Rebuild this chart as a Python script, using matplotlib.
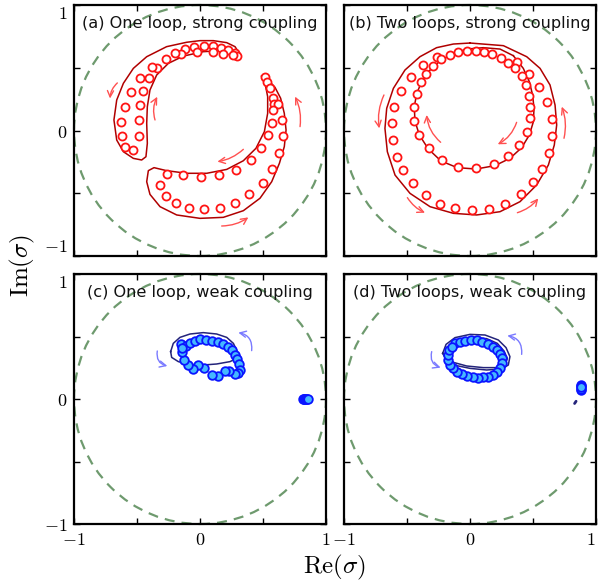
import matplotlib
matplotlib.use('Agg')
import matplotlib.pyplot as plt
from matplotlib.patches import Circle

plt.rcParams['mathtext.fontset'] = 'cm'

# ---------------- data ----------------
titles = ['(a) One loop, strong coupling', '(b) Two loops, strong coupling',
          '(c) One loop, weak coupling', '(d) Two loops, weak coupling']
tick_vals = [-1, -0.5, 0, 0.5, 1]
tick_labels = ['$-1$', '', '$0$', '', '$1$']

# (a) markers
a_mx = [-0.045, 0.032, 0.101, 0.164, 0.225, 0.278, 0.291, 0.265, 0.185, 0.106, -0.026, -0.119, -0.151,
        -0.198, -0.270, -0.344, -0.384, -0.402, -0.476, -0.450, -0.550, -0.476, -0.595, -0.481, -0.627,
        -0.481, -0.619, -0.529, -0.593,
        0.516, 0.534, 0.556, 0.577, 0.590, 0.616, 0.582, 0.648, 0.569, 0.656, 0.542, 0.627, 0.484, 0.571,
        0.402, 0.500, 0.286, 0.389, 0.151, 0.278, 0.011, 0.159, -0.135, 0.034, -0.262, -0.085, -0.317,
        -0.190, -0.270]
a_my = [0.668, 0.676, 0.673, 0.660, 0.641, 0.615, 0.594, 0.602, 0.610, 0.623, 0.628, 0.649, 0.607,
        0.615, 0.570, 0.501, 0.503, 0.416, 0.416, 0.315, 0.309, 0.203, 0.190, 0.084, 0.070,
        -0.044, -0.041, -0.155, -0.134,
        0.424, 0.389, 0.336, 0.256, 0.214, 0.208, 0.163, 0.084, 0.062, -0.044, -0.036, -0.182, -0.142, -0.309,
        -0.235, -0.416, -0.312, -0.509, -0.357, -0.578, -0.368, -0.615, -0.355, -0.623, -0.349, -0.615, -0.434,
        -0.575, -0.519]
# (a) curves
a_l1x = [0.312, 0.278, 0.212, 0.106, 0.0, -0.106, -0.265, -0.423, -0.529, -0.608, -0.661, -0.683, -0.661,
         -0.608, -0.529, -0.463, -0.429, -0.418, -0.423, -0.418, -0.397, -0.344, -0.251, -0.132, 0.026,
         0.159, 0.265, 0.312]
a_l1y = [0.615, 0.668, 0.700, 0.716, 0.716, 0.703, 0.668, 0.588, 0.495, 0.376, 0.243, 0.084, -0.076,
         -0.169, -0.222, -0.235, -0.209, -0.102, 0.057, 0.190, 0.323, 0.442, 0.535, 0.593, 0.628,
         0.636, 0.628, 0.615]
a_l2x = [0.489, 0.542, 0.595, 0.640, 0.669, 0.683, 0.669, 0.630, 0.569, 0.476, 0.344, 0.185, 0.0, -0.185,
         -0.317, -0.397, -0.423, -0.410, -0.365, -0.265, -0.106, 0.053, 0.212, 0.344, 0.444, 0.511, 0.537,
         0.537, 0.516, 0.489]
a_l2y = [0.434, 0.402, 0.344, 0.257, 0.137, 0.004, -0.129, -0.262, -0.408, -0.540, -0.639, -0.692, -0.700,
         -0.673, -0.607, -0.509, -0.408, -0.320, -0.296, -0.320, -0.341, -0.341, -0.310, -0.241, -0.142,
         -0.009, 0.137, 0.270, 0.376, 0.434]

# (b) markers
b_mx = [-0.259, -0.370, -0.471, -0.548, -0.601, -0.622, -0.614, -0.582, -0.529, -0.450, -0.349, -0.235,
        -0.116, 0.019, 0.153, 0.280, 0.402, 0.497, 0.574, 0.627, 0.653, 0.648, 0.614, 0.550, 0.471, 0.370,
        -0.230, -0.159, -0.093, -0.021, 0.045, 0.111, 0.175, 0.246, 0.304, 0.357, 0.410, 0.444, 0.471,
        0.479, 0.479, 0.450, 0.392, 0.304, 0.190, 0.048, -0.095, -0.225, -0.325, -0.402, -0.442, -0.447,
        -0.423, -0.389, -0.349, -0.291]
b_my = [0.583, 0.522, 0.426, 0.315, 0.190, 0.062, -0.076, -0.208, -0.317, -0.421, -0.514, -0.583,
        -0.620, -0.634, -0.623, -0.583, -0.509, -0.413, -0.307, -0.179, -0.041, 0.092, 0.224, 0.347, 0.450,
        0.543,
        0.567, 0.602, 0.623, 0.633, 0.633, 0.628, 0.609, 0.580, 0.535, 0.495, 0.437, 0.363, 0.278,
        0.190, 0.097, -0.015, -0.116, -0.203, -0.267, -0.301, -0.291, -0.235, -0.142, -0.036, 0.078, 0.190,
        0.294, 0.384, 0.448, 0.514]
# (b) curves
b_l1x = [0.000, 0.265, 0.450, 0.556, 0.635, 0.675, 0.688, 0.669, 0.622, 0.529, 0.397, 0.238, 0.053,
         -0.132, -0.317, -0.476, -0.595, -0.656, -0.675, -0.661, -0.608, -0.516, -0.397, -0.265, -0.132, 0.000]
b_l1y = [0.697, 0.676, 0.588, 0.495, 0.363, 0.203, 0.044, -0.116, -0.275, -0.434, -0.567, -0.647, -0.673,
         -0.660, -0.607, -0.501, -0.355, -0.169, 0.017, 0.177, 0.336, 0.482, 0.588, 0.660, 0.689, 0.697]
b_l2x = [0.344, 0.423, 0.471, 0.497, 0.508, 0.503, 0.471, 0.410, 0.317, 0.198, 0.048, -0.101, -0.230,
         -0.331, -0.402, -0.437, -0.442, -0.423, -0.384, -0.317, -0.238, -0.146, -0.026, 0.106, 0.238, 0.344]
b_l2y = [0.596, 0.495, 0.389, 0.283, 0.177, 0.070, -0.036, -0.137, -0.222, -0.280, -0.307, -0.296, -0.243,
         -0.147, -0.036, 0.076, 0.190, 0.294, 0.389, 0.482, 0.554, 0.607, 0.649, 0.660, 0.649, 0.596]

# (c) markers
c_mx = [-0.151, -0.114, -0.079, -0.040, 0.000, 0.045, 0.093, 0.146, 0.185, 0.225, 0.257, 0.278, 0.296,
        0.312, 0.317, 0.304, 0.278, 0.233, 0.198, 0.146, 0.093, 0.032, -0.019, -0.053, -0.093, -0.127,
        -0.146, -0.146]
c_my = [0.437, 0.424, 0.445, 0.464, 0.477, 0.472, 0.464, 0.453, 0.440, 0.419, 0.392, 0.352, 0.317,
        0.277, 0.232, 0.205, 0.197, 0.224, 0.224, 0.184, 0.192, 0.251, 0.272, 0.237, 0.272, 0.312,
        0.379, 0.405]
c_dotx = [0.815, 0.822, 0.829, 0.836, 0.843, 0.850, 0.857]
c_doty = [0.0, 0.0, 0.0, 0.0, 0.0, 0.0, 0.0]
c_lx = [-0.233, -0.212, -0.159, -0.079, 0.026, 0.132, 0.212, 0.265, 0.296, 0.291, 0.238, 0.132, 0.026,
        -0.079, -0.172, -0.225, -0.233]
c_ly = [0.379, 0.445, 0.493, 0.520, 0.531, 0.520, 0.493, 0.445, 0.379, 0.325, 0.299, 0.280, 0.272,
        0.277, 0.299, 0.333, 0.379]

# (d) markers
d_mx = [-0.119, -0.079, -0.040, 0.005, 0.053, 0.098, 0.140, 0.180, 0.212, 0.238, 0.251, 0.251, 0.238,
        0.212, 0.180, 0.146, 0.106, 0.066, 0.021, -0.021, -0.063, -0.101, -0.132, -0.159, -0.172, -0.177,
        -0.164, -0.146]
d_my = [0.445, 0.459, 0.467, 0.472, 0.472, 0.459, 0.440, 0.419, 0.392, 0.360, 0.325, 0.285, 0.245,
        0.213, 0.192, 0.179, 0.173, 0.171, 0.173, 0.184, 0.200, 0.219, 0.245, 0.272, 0.312, 0.352,
        0.392, 0.419]
d_dotx = [0.884, 0.884, 0.884, 0.884, 0.884]
d_doty = [0.072, 0.082, 0.114, 0.104, 0.093]
d_l1x = [-0.217, -0.190, -0.119, 0.0, 0.119, 0.225, 0.286, 0.317, 0.304, 0.251, 0.132, 0.0, -0.106,
         -0.180, -0.217]
d_l1y = [0.365, 0.437, 0.491, 0.517, 0.512, 0.472, 0.411, 0.339, 0.272, 0.240, 0.232, 0.245, 0.267,
         0.299, 0.365]
d_l2x = [-0.190, -0.153, -0.079, 0.026, 0.132, 0.217, 0.270, 0.296, 0.278, 0.225, 0.106, -0.026, -0.132,
         -0.190]
d_l2y = [0.357, 0.427, 0.469, 0.491, 0.483, 0.445, 0.384, 0.325, 0.272, 0.251, 0.251, 0.264, 0.293,
         0.357]
d_segx = [0.830, 0.842]
d_segy = [-0.036, -0.018]

# arrows: (x_start, y_start, x_end, y_end, curvature)
a_arrows = [(-0.656, 0.379, -0.714, 0.255, 0.2), (-0.357, 0.084, -0.339, 0.269, -0.2),
            (0.344, -0.150, 0.138, -0.248, -0.15), (0.172, -0.761, 0.384, -0.692, 0.15),
            (0.794, 0.031, 0.754, 0.270, 0.15)]
b_arrows = [(-0.683, 0.283, -0.720, 0.017, 0.15), (-0.497, -0.535, -0.357, -0.655, 0.15),
            (0.376, -0.655, 0.542, -0.541, 0.15), (0.746, -0.062, 0.728, 0.190, 0.15),
            (-0.233, -0.094, -0.344, 0.124, -0.2), (0.370, 0.065, 0.220, -0.110, -0.2)]
c_arrows = [(-0.339, 0.384, -0.259, 0.264, 0.45), (0.410, 0.387, 0.304, 0.531, 0.45)]
d_arrows = [(-0.304, 0.379, -0.233, 0.251, 0.45), (0.410, 0.357, 0.296, 0.507, 0.45)]

# ---------------- styles ----------------
RED_M = '#ff1414'
RED_L = '#b00000'
RED_A = '#ff5050'
BLUE_E = '#0a14ff'
BLUE_F = '#45b8ff'
NAVY = '#24247a'
BLUE_A = '#7a7aff'
GREEN = '#6e9a6e'

fig = plt.figure(figsize=(5.98, 5.84), dpi=100)
W, H = 598.0, 584.0
pos = [(74, 256, 251), (344, 256, 251), (74, 524, 250), (344, 524, 250)]
axes = []
for (l, b, h) in pos:
    axes.append(fig.add_axes([l / W, 1 - b / H, 252 / W, h / H]))


def setup(ax, title, left, bottom, panel):
    ax.set_xlim(-1, 1)
    ax.set_ylim(-1, 1)
    ax.add_patch(Circle((0, 0), 1, fill=False, ec=GREEN, lw=1.6, ls=(0, (4.5, 3.2)), zorder=1,
                        clip_on=False))
    ax.set_xticks(tick_vals)
    ax.set_yticks(tick_vals)
    ax.set_xticklabels(tick_labels, fontsize=13)
    ax.set_yticklabels(tick_labels, fontsize=13)
    ax.tick_params(direction='in', length=4, width=1, top=True, right=True, pad=5,
                   labelleft=left, labelbottom=bottom)
    if left:
        labs = ax.get_yticklabels()
        labs[4].set_va('top')
        if panel == 'a':
            labs[0].set_va('bottom')
    if panel == 'd':
        xl = ax.get_xticklabels()
        xl[4].set_ha('right')
    for s in ax.spines.values():
        s.set_linewidth(1.6)
    ax.text(0.5, 0.928, title, transform=ax.transAxes, ha='center', va='center',
            fontsize=11.6, family='DejaVu Sans', color='#111111', zorder=6)


def arrows(ax, lst, color):
    for (x0, y0, x1, y1, r) in lst:
        ax.annotate('', xy=(x1, y1), xytext=(x0, y0),
                    arrowprops=dict(arrowstyle='->,head_length=0.45,head_width=0.22', color=color,
                                    lw=1.0, shrinkA=0, shrinkB=0,
                                    connectionstyle='arc3,rad=%g' % r), zorder=3)


axa, axb, axc, axd = axes
setup(axa, titles[0], True, False, 'a')
setup(axb, titles[1], False, False, 'b')
setup(axc, titles[2], True, True, 'c')
setup(axd, titles[3], False, True, 'd')

red_m = dict(ls='none', marker='o', ms=5.8, mfc='white', mec=RED_M, mew=1.3, zorder=4)
blue_m = dict(ls='none', marker='o', ms=6.2, mfc=BLUE_F, mec=BLUE_E, mew=1.3, zorder=4)

axa.plot(a_l1x, a_l1y, color=RED_L, lw=1.1, zorder=2)
axa.plot(a_l2x, a_l2y, color=RED_L, lw=1.1, zorder=2)
axa.plot(a_mx, a_my, **red_m)
arrows(axa, a_arrows, RED_A)

axb.plot(b_l1x, b_l1y, color=RED_L, lw=1.1, zorder=2)
axb.plot(b_l2x, b_l2y, color=RED_L, lw=1.1, zorder=2)
axb.plot(b_mx, b_my, **red_m)
arrows(axb, b_arrows, RED_A)

axc.plot(c_lx, c_ly, color=NAVY, lw=1.1, zorder=2)
axc.plot(c_mx, c_my, **blue_m)
axc.plot(c_dotx, c_doty, **blue_m)
arrows(axc, c_arrows, BLUE_A)

axd.plot(d_l1x, d_l1y, color=NAVY, lw=1.1, zorder=2)
axd.plot(d_l2x, d_l2y, color=NAVY, lw=1.1, zorder=2)
axd.plot(d_mx, d_my, **blue_m)
axd.plot(d_dotx, d_doty, **blue_m)
axd.plot(d_segx, d_segy, color=NAVY, lw=2.0, solid_capstyle='round', zorder=2)
arrows(axd, d_arrows, BLUE_A)

fig.text(0.559, 0.029, r'$\mathrm{Re}(\sigma)$', ha='center', va='center', fontsize=18)
fig.text(0.037, 0.546, r'$\mathrm{Im}(\sigma)$', ha='center', va='center', fontsize=18, rotation=90)

fig.savefig('out.png', dpi=100)
